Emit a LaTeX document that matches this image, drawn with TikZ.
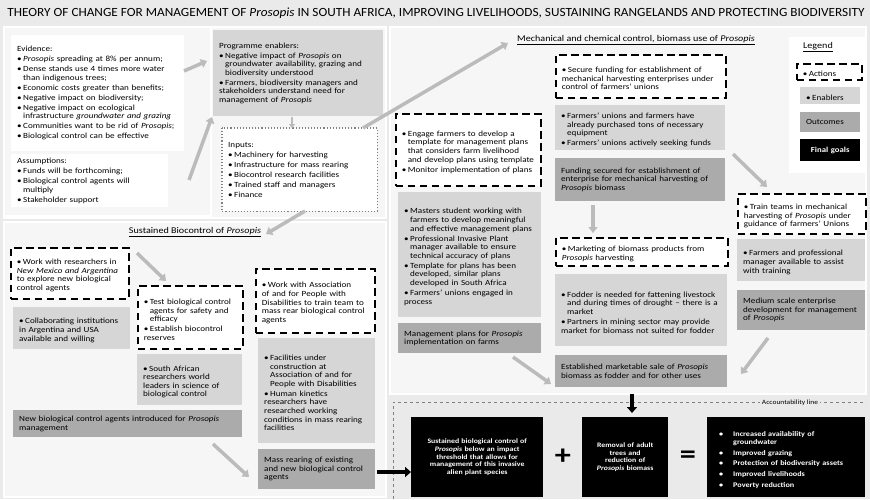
\documentclass[tikz,border=0pt]{standalone}
\usepackage{fontspec}
\usepackage{graphicx}
\setmainfont{Carlito}[FakeStretch=1.15]
\newfontfamily\titlefont{Carlito}
\usetikzlibrary{arrows.meta,calc}
\definecolor{pagebg}{HTML}{EAEAEA}
\definecolor{panelbg}{HTML}{F6F6F6}
\definecolor{enab}{HTML}{D6D6D6}
\definecolor{outc}{HTML}{ABABAB}
\definecolor{arr}{HTML}{BBBBBB}
\newcommand\bitem{\par\hangindent=6pt\hangafter=1\noindent\makebox[6pt][l]{\textbullet}}
\newcommand\gitem{\par\hangindent=20pt\hangafter=1\noindent\hspace{6pt}\makebox[14pt][l]{\textbullet}}
\newcommand\mkbox[7]{\pgfmathsetmacro\bw{#5-#3}\pgfmathsetmacro\bh{#6-#4}\pgfmathsetmacro\bt{#5-#3-12}%
\node[minimum width=\bw pt, minimum height=\bh pt, text width=\bt pt, #1] (#2) at (#3,#4) {#7};}
\tikzset{
  box/.style={anchor=north west, inner xsep=6pt, inner ysep=3pt, align=left, font=\fontsize{7.9}{8.6}\selectfont,
    execute at begin node={\setlength{\parskip}{1.4pt}\hyphenpenalty=10000\exhyphenpenalty=10000}},
  action/.style={box, fill=white, draw=black, line width=1.7pt, dash pattern=on 7.5pt off 4.5pt},
  enabler/.style={box, fill=enab},
  outcome/.style={box, fill=outc},
  plain/.style={box, fill=white},
  goal/.style={box, fill=black, text=white, font=\fontsize{6.8}{7.8}\selectfont\bfseries},
  panel/.style={draw=gray!75, double=white, double distance=1.2pt, line width=0.6pt},
  heading/.style={font=\fontsize{8.8}{10}\selectfont},
  garrow/.style={draw=arr, line width=3.5pt, -{Triangle[length=6pt,width=9pt]}},
  barrow/.style={draw=black, line width=3.5pt, -{Triangle[length=6pt,width=10pt]}},
}
\begin{document}
\begin{tikzpicture}[x=1pt,y=-1pt]
\useasboundingbox (0,0) rectangle (870,499);
\fill[pagebg] (0,0) rectangle (870,499);

% title
\node (title) at (436,13) {\resizebox{857pt}{8.6pt}{\titlefont THEORY OF CHANGE FOR MANAGEMENT OF \textit{Prosopis} IN SOUTH AFRICA, IMPROVING LIVELIHOODS, SUSTAINING RANGELANDS AND PROTECTING BIODIVERSITY}};

% panels
\filldraw[panel, fill=panelbg] (4,27) rectangle (386,218);
\draw[panel] (4,27) rectangle (211,216);
\filldraw[panel, fill=panelbg] (4,222) rectangle (386,497);
\filldraw[panel, fill=panelbg] (390,27) rectangle (866,394);

% top-left area
\mkbox{plain}{evid}{11}{35}{184}{151}{Evidence:
\bitem \textit{Prosopis} spreading at 8\% per annum;
\bitem Dense stands use 4 times more water than indigenous trees;
\bitem Economic costs greater than benefits;
\bitem Negative impact on biodiversity;
\bitem Negative impact on ecological infrastructure \textit{groundwater and grazing}
\bitem Communities want to be rid of \textit{Prosopis};
\bitem Biological control can be effective}
\mkbox{plain}{assum}{11}{154}{168}{207}{Assumptions:
\bitem Funds will be forthcoming;
\bitem Biological control agents will multiply
\bitem Stakeholder support}
\mkbox{enabler}{enab}{213}{30}{383}{116}{Programme enablers:
\bitem Negative impact of \textit{Prosopis} on groundwater availability, grazing and biodiversity understood
\bitem Farmers, biodiversity managers and stakeholders understand need for management of \textit{Prosopis}}
\mkbox{plain}{inputs}{222}{128}{377}{211}{Inputs:
\bitem Machinery for harvesting
\bitem Infrastructure for mass rearing
\bitem Biocontrol research facilities
\bitem Trained staff and managers
\bitem Finance}
\draw[gray, dotted, line width=1.1pt] (inputs.north west) rectangle (inputs.south east);

% headings
\node[heading] (mechh) at (636,40) {\underline{Mechanical and chemical control, biomass use of \textit{Prosopis}}};
\node[heading] (bioh) at (195,232) {\underline{Sustained Biocontrol of \textit{Prosopis}}};

% legend
\draw[panel, fill=white] (790,38) rectangle (864,172);
\node[heading] (legt) at (818,47) {\underline{Legend}};
\mkbox{action, inner xsep=4pt}{lga}{796}{63}{861}{79}{\bitem Actions}
\mkbox{enabler}{lge}{800}{87}{860}{104}{\bitem Enablers}
\mkbox{outcome}{lgo}{800}{112}{860}{132}{Outcomes}
\mkbox{goal, align=center, font=\fontsize{7.6}{8}\selectfont\bfseries}{lgg}{800}{139}{860}{161}{Final goals}

% right panel
\mkbox{action}{a1}{555}{54}{725}{97}{\bitem Secure funding for establishment of mechanical harvesting enterprises under control of farmers' unions}
\mkbox{enabler}{e1}{555}{105}{725}{150}{\bitem Farmers' unions and farmers have already purchased tons of necessary equipment
\bitem Farmers' unions actively seeking funds}
\mkbox{outcome}{o1}{555}{158}{725}{201}{Funding secured for establishment of enterprise for mechanical harvesting of \textit{Prosopis} biomass}
\mkbox{action}{a2}{555}{237}{727}{265}{\bitem Marketing of biomass products from \textit{Prosopis} harvesting}
\mkbox{enabler}{e2}{555}{274}{727}{346}{\bitem Fodder is needed for fattening livestock and during times of drought -- there is a market
\bitem Partners in mining sector may provide market for biomass not suited for fodder}
\mkbox{outcome}{o2}{555}{355}{727}{387}{Established marketable sale of \textit{Prosopis} biomass as fodder and for other uses}

\mkbox{action}{a3}{395}{113}{540}{185}{\bitem Engage farmers to develop a template for management plans that considers farm livelihood and develop plans using template
\bitem Monitor implementation of plans}
\mkbox{enabler}{e3}{398}{192}{541}{317}{\bitem Masters student working with farmers to develop meaningful and effective management plans
\bitem Professional Invasive Plant manager available to ensure technical accuracy of plans
\bitem Template for plans has been developed, similar plans developed in South Africa
\bitem Farmers' unions engaged in process}
\mkbox{outcome}{o3}{398}{323}{541}{353}{Management plans for \textit{Prosopis} implementation on farms}

\mkbox{action}{a4}{737}{193}{865}{233}{\bitem Train teams in mechanical harvesting of \textit{Prosopis} under guidance of farmers' Unions}
\mkbox{enabler}{e4}{737}{239}{865}{281}{\bitem Farmers and professional manager available to assist with training}
\mkbox{outcome}{o4}{737}{290}{865}{330}{Medium scale enterprise development for management of \textit{Prosopis}}

% sustained biocontrol panel
\mkbox{action}{a5}{10}{247}{128}{298}{\bitem Work with researchers in \textit{New Mexico and Argentina} to explore new biological control agents}
\mkbox{enabler}{e5}{13}{307}{130}{349}{\bitem Collaborating institutions in Argentina and USA available and willing}
\mkbox{action}{a6}{137}{285}{242}{348}{\bitem Test biological control agents for safety and efficacy
\bitem Establish biocontrol reserves}
\mkbox{enabler}{e6}{137}{354}{242}{405}{\bitem South African researchers world leaders in science of biological control}
\mkbox{outcome}{o5}{13}{410}{242}{437}{New biological control agents introduced for \textit{Prosopis} management}
\mkbox{action}{a7}{255}{268}{374}{332}{\bitem Work with Association of and for People with Disabilities to train team to mass rear biological control agents}
\mkbox{enabler}{e7}{258}{338}{375}{443}{\bitem Facilities under construction at Association of and for People with Disabilities
\bitem Human kinetics researchers have researched working conditions in mass rearing facilities}
\mkbox{outcome}{o6}{258}{449}{375}{489}{Mass rearing of existing and new biological control agents}

% accountability line
\draw[gray, dashed, line width=0.5pt] (393,499) -- (393,402) -- (866,402);
\node[fill=pagebg, inner sep=2pt, font=\fontsize{6.5}{7}\selectfont] (acc) at (790,403) {Accountability line};

% final goals
\mkbox{goal, align=center, text width=120pt}{g1}{411}{417}{543}{497}{Sustained biological control of\\ \textit{Prosopis} below an impact\\ threshold that allows for\\ management of this invasive\\ alien plant species}
\node[font=\fontsize{28}{28}\selectfont\bfseries] (plus) at (563,457) {+};
\mkbox{goal, align=center, text width=74pt}{g2}{582}{417}{668}{497}{Removal of adult\\ trees and\\ reduction of\\ \textit{Prosopis} biomass}
\node[font=\fontsize{28}{28}\selectfont\bfseries] (eq) at (688,457) {=};
\mkbox{goal, inner xsep=3pt, font=\fontsize{7.1}{8}\selectfont\bfseries, execute at begin node={\setlength{\parskip}{2.6pt}\hyphenpenalty=10000}}{g3}{707}{417}{865}{497}{%
\gitem Increased availability of groundwater
\gitem Improved grazing
\gitem Protection of biodiversity assets
\gitem Improved livelihoods
\gitem Poverty reduction\par}

% connector end points
\coordinate (c1s) at (184,71);
\coordinate (c1e) at (207,61);
\coordinate (c2s) at (189,180);
\coordinate (c2e) at (212,117);
\coordinate (c3s) at (292,117);
\coordinate (c4s) at (363,128);
\coordinate (c4e) at (508,43);
\coordinate (c5s) at (305,211);
\coordinate (c5e) at (266,234);
\coordinate (c6e) at (593,233);
\coordinate (c7s) at (733,154);
\coordinate (c7e) at (767,187);
\coordinate (c8s) at (513,357);
\coordinate (c8e) at (551,384);
\coordinate (c9s) at (768,338);
\coordinate (c9e) at (741,374);
\coordinate (c10s) at (137,253);
\coordinate (c10e) at (166,281);
\coordinate (c11s) at (213,444);
\coordinate (c11e) at (249,477);
\coordinate (c12e) at (632,413);
\coordinate (c13s) at (377,472);

% connectors
\draw[garrow] (c1s) -- (c1e);
\draw[garrow] (c2s) -- (c2e);
\draw[draw=arr, line width=2pt, -{Triangle[length=4pt,width=6pt]}] (c3s) -- (c3s |- inputs.north);
\draw[garrow] (c4s) -- (c4e);
\draw[garrow] (c5s) -- (c5e);
\draw[garrow] (c6e |- o1.south) ++(0,4) -- (c6e);
\draw[garrow] (c7s) -- (c7e);
\draw[garrow] (c8s) -- (c8e);
\draw[garrow] (c9s) -- (c9e);
\draw[garrow] (c10s) -- (c10e);
\draw[garrow] (c11s) -- (c11e);
\draw[barrow] (c12e |- 0,394) -- (c12e);
\draw[barrow] (c13s) -- (g1.west |- c13s);
\end{tikzpicture}
\end{document}
